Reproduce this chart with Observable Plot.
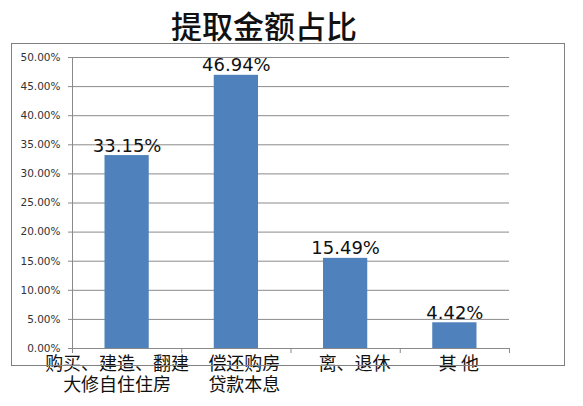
<!DOCTYPE html>
<html>
<head>
<meta charset="utf-8">
<script src="https://cdn.jsdelivr.net/npm/d3@7"></script>
<script src="https://cdn.jsdelivr.net/npm/@observablehq/plot@0.6"></script>
<style>
  body { margin: 0; background: #fff; }
  #wrap { position: relative; width: 583px; height: 406px; overflow: hidden; }
  #title { width: 583px; height: 43px; box-sizing: border-box; padding-right: 55px; text-align: center;
           font-family: "Noto Sans CJK SC", sans-serif; font-size: 31px; font-weight: 500; line-height: 50px; color: #111; }
  #frame { position: absolute; left: 11px; top: 43px; width: 554px; height: 323px; box-sizing: border-box;
           border: 1px solid #808080; pointer-events: none; }
</style>
</head>
<body>
<div id="wrap">
  <div id="title">提取金额占比</div>
  <div id="chart"></div>
  <div id="frame"></div>
</div>
<script>
const title = "提取金额占比";
const categories = ["购买、建造、翻建\n大修自住住房", "偿还购房\n贷款本息", "离、退休", "其 他"];
const values = [33.15, 46.94, 15.49, 4.42];
const yTicks = [0, 5, 10, 15, 20, 25, 30, 35, 40, 45, 50];

const data = categories.map((c, i) => ({cat: c, idx: i, value: values[i]}));
const pct = v => v.toFixed(2) + "%";

// horizontal nudges of the category labels, as in the reference
const labelDx = [-10, 8, 9, 4];
const catLabels = data.map((d, i) =>
  Plot.text([d], {x: e => e.idx + 0.5, frameAnchor: "bottom", text: "cat", lineAnchor: "top", dy: 7, dx: labelDx[i],
    lineHeight: 1.16, fontFamily: "Noto Sans CJK SC", fontSize: 18, fill: "#111"}));

const chart = Plot.plot({
  width: 583,
  height: 363,
  marginLeft: 72,
  marginRight: 74,
  marginTop: 14,
  marginBottom: 58,
  style: {background: "transparent", overflow: "visible"},
  x: {domain: [0, categories.length]},
  y: {domain: [0, 50]},
  marks: [
    Plot.gridY(yTicks, {stroke: "#8a8a8a", strokeOpacity: 1, strokeWidth: 1}),
    Plot.axisY(yTicks, {tickSize: 4, tickPadding: 8, tickFormat: pct, stroke: "#8a8a8a",
      fontFamily: "DejaVu Sans", fontSize: 10.5, fill: "#333", label: null}),
    Plot.axisX(d3.range(categories.length + 1), {tickSize: 5, stroke: "#8a8a8a", tickFormat: () => "", label: null}),
    Plot.frame({anchor: "left", stroke: "#8a8a8a"}),
    Plot.rectY(data, {x1: d => d.idx, x2: d => d.idx + 1, y: "value", fill: "#4f81bd", insetLeft: 32.5, insetRight: 32.5}),
    Plot.text(data, {x: d => d.idx + 0.5, y: "value", text: d => pct(d.value), lineAnchor: "bottom", dy: -4,
      fontFamily: "DejaVu Sans", fontSize: 18, fill: "#111"}),
    ...catLabels
  ]
});
document.getElementById("chart").appendChild(chart);
</script>
</body>
</html>
